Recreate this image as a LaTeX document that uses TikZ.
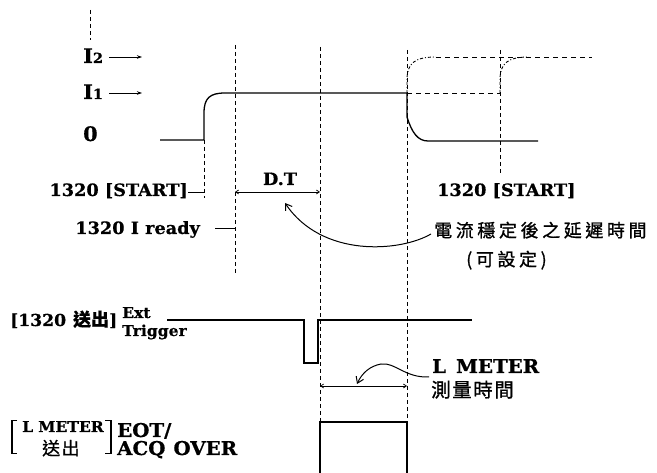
\documentclass[tikz,border=0pt]{standalone}
\usepackage{fontspec}
\setmainfont{DejaVu Serif}[FakeStretch=1.04,BoldFeatures={FakeBold=0.6}]
\newfontfamily\cjk[LetterSpace=20,FakeBold=0.9]{Noto Sans CJK TC}
\newfontfamily\cjkm[LetterSpace=8,FakeBold=0.9]{Noto Sans CJK TC}
\newfontfamily\cjkn[FakeBold=0.4]{Noto Sans CJK TC}
\usetikzlibrary{arrows.meta}
\begin{document}
\begin{tikzpicture}[x=1pt,y=-1pt,
  wave/.style={line width=1.3pt},
  vgrid/.style={line width=0.9pt,dash pattern=on 4pt off 3pt},
  hdash/.style={line width=0.9pt,dash pattern=on 5pt off 4pt},
  ddot/.style={line width=0.9pt,dash pattern=on 3pt off 2pt on 1pt off 2pt},
  lbl/.style={font=\bfseries\fontsize{17}{19}\selectfont,inner sep=0pt,anchor=base west},
  big/.style={font=\bfseries\fontsize{19}{21}\selectfont,inner sep=0pt,anchor=base west},
  sml/.style={font=\bfseries\fontsize{15}{17}\selectfont,inner sep=0pt,anchor=base west},
  cj/.style={font=\cjk\fontsize{18}{20}\selectfont,inner sep=0pt,anchor=base west},
  cjm/.style={font=\cjkm\fontsize{19.5}{21}\selectfont,inner sep=0pt,anchor=base west},
  dim/.style={line width=0.7pt,{Straight Barb[length=3pt,width=4pt]}-{Straight Barb[length=3pt,width=4pt]}},
  lvl/.style={line width=0.8pt,-{Stealth[length=5pt,width=3.5pt]}},
  curvearrow/.style={line width=1pt,-{Straight Barb[length=6pt,width=8pt]}}
]
\useasboundingbox (0,0) rectangle (657,473);

% ---- key points ----
\coordinate (a0) at (160,140);
\coordinate (a1) at (204,140);
\coordinate (a2) at (204,113);
\coordinate (a3) at (225,93);
\coordinate (a4) at (407,93);
\coordinate (a5) at (407,117);
\coordinate (a6) at (428,141);
\coordinate (a7) at (538,141);
\coordinate (b1) at (500,93);

% ---- vertical dashed guide lines ----
\draw[vgrid] (90,10) -- (90,40);
\draw[vgrid] (204,140) -- (204,198);
\draw[vgrid] (235,45) -- (235,273);
\draw[vgrid] (320,47) -- (320,422);
\draw[vgrid] (407,50) -- (407,420);
\draw[vgrid] (500,50) -- (500,175);

% ---- current waveform ----
\draw[wave] (a0) -- (a1) -- (a2) .. controls (204,98) and (210,93) .. (a3) -- (a4) -- (a5)
  .. controls (412,133) and (418,141) .. (a6) -- (a7);
\draw[hdash] (a4) -- (b1);
\draw[ddot] (a4) -- (407,80) .. controls (407,63) and (415,57) .. (436,57);
\draw[ddot] (b1) -- (500,80) .. controls (500,63) and (508,57) .. (529,57);
\draw[hdash] (436,57) -- (592,57);

% ---- level labels ----
\node[font=\bfseries\fontsize{20}{20}\selectfont,inner sep=0pt,anchor=base west] (i2) at (83,63) {I{\fontsize{14}{14}\selectfont 2}};
\node[font=\bfseries\fontsize{20}{20}\selectfont,inner sep=0pt,anchor=base west] (i1) at (83,99) {I{\fontsize{14}{14}\selectfont 1}};
\node[font=\bfseries\fontsize{20}{20}\selectfont,inner sep=0pt,anchor=base west] (z0) at (83,141) {0};
\coordinate (i2a) at (109,57); \coordinate (i2b) at (142,57);
\coordinate (i1a) at (109,93); \coordinate (i1b) at (142,93);
\draw[lvl] (i2a) -- (i2b);
\draw[lvl] (i1a) -- (i1b);

% ---- START / ready ----
\node[lbl,anchor=base east] (startL) at (188,196) {1320 [START]};
\coordinate (st1) at (188,193); \coordinate (st2) at (204,193);
\draw[line width=1pt] (st1) -- (st2);
\node[lbl,anchor=base east] (ready) at (200,234) {1320 I ready};
\coordinate (rd1) at (215,229); \coordinate (rd2) at (235,229);
\draw[line width=1pt] (rd1) -- (rd2);
\node[lbl,anchor=base] (dt) at (280,185) {D.T};
\coordinate (dt1) at (235,192); \coordinate (dt2) at (320,192);
\draw[dim] (dt1) -- (dt2);
\node[lbl] (startR) at (437,196) {1320 [START]};

% ---- delay annotation ----
\node[cj] (delay) at (434,237) {電流穩定後之延遲時間};
\node[cj] (settable) at (466,266) {(可設定)};
\coordinate (dstart) at (431,234);
\coordinate (dtip) at (285,203);
\draw[curvearrow] (dstart) .. controls (400,252) and (322,258) .. (dtip);

% ---- trigger ----
\node[font=\bfseries\fontsize{16.5}{18}\selectfont,inner sep=0pt,anchor=base west] (trg) at (10,326)
  {[1320\hspace{7pt}{\cjkn\fontsize{18}{18}\selectfont 送出}]};
\node[sml] (ext) at (122,318) {Ext};
\node[sml] (trig) at (122,336) {Trigger};
\draw[wave] (167,320) -| (304,363) -| (318,320) -- (472,320);

% ---- L meter measure time ----
\node[big] (lm) at (432,373) {L\hspace{10pt}METER};
\node[cjm] (mt) at (431,397) {測量時間};
\coordinate (lstart) at (429,377);
\coordinate (ltip) at (357,384);
\draw[curvearrow] (lstart) .. controls (405,378) and (395,362) .. (381,364) .. controls (370,366) and (362,373) .. (ltip);
\coordinate (lm1) at (320,386); \coordinate (lm2) at (407,386);
\draw[dim] (lm1) -- (lm2);

% ---- EOT box ----
\draw[wave] (320,473) -- (320,422) -- (407,422) -- (407,473);

% ---- bottom label ----
\draw[line width=1pt] (17,421) -- (11,421) -- (11,454) -- (17,454);
\draw[line width=2pt] (11.5,421) -- (11.5,454);
\draw[line width=1pt] (105,421) -- (111,421) -- (111,454) -- (105,454);
\draw[line width=2pt] (110.5,421) -- (110.5,454);
\node[font=\bfseries\fontsize{15}{17}\selectfont,inner sep=0pt,anchor=base west] (lmb) at (22,432) {L\hspace{5pt}METER};
\node[font=\cjkm\fontsize{18}{19}\selectfont,inner sep=0pt,anchor=base west] (sc) at (42,455) {送出};
\node[big] (eot) at (117,437) {EOT/};
\node[big] (acq) at (117,455) {ACQ\hspace{8pt}OVER};
\end{tikzpicture}
\end{document}
